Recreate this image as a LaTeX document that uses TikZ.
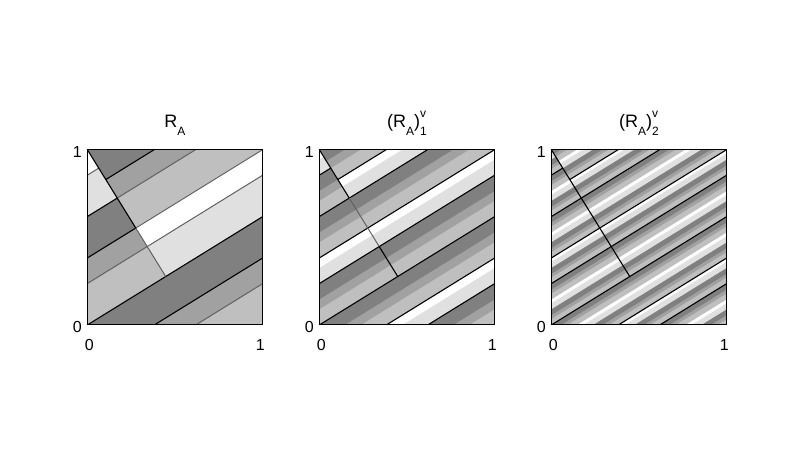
\documentclass[tikz,border=0pt]{standalone}
\usepackage{fontspec}
\setmainfont{Liberation Sans}
\definecolor{lev0}{gray}{0.5}
\definecolor{lev1}{gray}{0.63}
\definecolor{lev2}{gray}{0.75}
\definecolor{lev3}{gray}{0.88}
\definecolor{lev4}{gray}{1}
\definecolor{lngray}{gray}{0.38}
\def\Ss{0.618034}
\def\Ph{1.618034}
% one step of the inverse map on the left-edge coordinate
\newcommand\RAstep{%
  \pgfmathsetmacro\RAX{1-\RAu}%
  \pgfmathsetmacro\RAY{2*\RAu-floor(2*\RAu)}%
  \pgfmathsetmacro\RAt{\RAY-\Ss*\RAX}%
  \pgfmathtruncatemacro\RAin{((\RAY>\Ss*\RAX)&&(\RAY<1-\Ph*\RAX))?1:0}%
  \ifnum\RAin=1
    \pgfmathsetmacro\RAu{\RAt-floor(\RAt)}%
  \else
    \pgfmathsetmacro\RAu{\RAt+\Ss-floor(\RAt+\Ss)}%
  \fi}
\newcommand\RAruns[1]{%
  \gdef\RAlist{}\gdef\RAprev{-1}\gdef\RAstart{0}%
  \foreach \i in {0,...,999}{%
    \pgfmathsetmacro\RAu{(\i+0.5)/1000}%
    \ifnum#1>1 \RAstep\fi
    \ifnum#1>2 \RAstep\fi
    \pgfmathtruncatemacro\RAc{\RAu<0.236068?2:(\RAu<0.381966?1:(\RAu<0.618034?0:(\RAu<0.854102?3:4)))}%
    \ifnum\RAc=\RAprev\relax\else
      \ifnum\RAprev>-1
        \xdef\RAlist{\unexpanded\expandafter{\RAlist}\noexpand\RAfill{\RAprev}{\RAstart}{\i/1000}}%
      \fi
      \xdef\RAprev{\RAc}\xdef\RAstart{\i/1000}%
    \fi}%
  \xdef\RAlist{\unexpanded\expandafter{\RAlist}\noexpand\RAfill{\RAprev}{\RAstart}{1}}}
\newcommand\RAfillL[3]{\fill[lev#1] (-0.05,{#2-0.05*\Ss}) -- (1.05,{#2+1.05*\Ss}) -- (1.05,{#3+0.002+1.05*\Ss}) -- (-0.05,{#3+0.002-0.05*\Ss}) -- cycle;}
\newcommand\RAfillR[3]{\foreach \k in {0,1}{\fill[lev#1] (-0.05,{#2+\k-1.05*\Ss}) -- (1.05,{#2+\k+0.05*\Ss}) -- (1.05,{#3+\k+0.002+0.05*\Ss}) -- (-0.05,{#3+\k+0.002-1.05*\Ss}) -- cycle;}}
% unstable segment from parameter a0 to a1
\newcommand\RAseg[3]{%
  \pgfmathtruncatemacro\RAna{floor(#1)}%
  \pgfmathtruncatemacro\RAnb{floor(#2-0.00001)}%
  \foreach \n in {\RAna,...,\RAnb}{%
    \pgfmathsetmacro\RAxa{max(0,#1-\n)}%
    \pgfmathsetmacro\RAxb{min(1,#2-\n)}%
    \pgfmathsetmacro\RAcc{\n*\Ss-floor(\n*\Ss)}%
    \draw[#3] (\RAxa,{\RAcc+\Ss*\RAxa}) -- (\RAxb,{\RAcc+\Ss*\RAxb});
    \draw[#3] (\RAxa,{\RAcc+\Ss*\RAxa-1}) -- (\RAxb,{\RAcc+\Ss*\RAxb-1});}}
% stable segment (the diagonal) from x0 to x1
\newcommand\RAdiag[3]{\draw[#3] (#1,{1-\Ph*#1}) -- (#2,{1-\Ph*#2});}
\newcommand\RAsub[1]{\raisebox{-0.45em}{\fontsize{12}{12}\selectfont #1}}
\newcommand\RAsupsub[2]{\makebox[0pt][l]{\raisebox{0.55em}{\fontsize{12}{12}\selectfont #1}}\raisebox{-0.45em}{\fontsize{12}{12}\selectfont #2}}
\tikzset{
  blk/.style={black,line width=1.1pt},
  gry/.style={lngray,line width=1pt},
  frame/.style={black,line width=1pt},
  lbl/.style={font=\fontsize{16}{16}\selectfont,inner sep=0pt},
  ttl/.style={font=\fontsize{18}{18}\selectfont,inner sep=0pt,anchor=base}}
\newcommand\RApanel[6]{%
  \begin{scope}[shift={(#2,151)},x=175.4pt,y=175.4pt]
    \RAruns{#3}%
    \begin{scope}\clip (0,0) rectangle (1,1); \let\RAfill\RAfillR \RAlist\end{scope}
    \begin{scope}\clip (0,0) -- (0,1) -- (0.447214,0.276393) -- cycle; \let\RAfill\RAfillL \RAlist\end{scope}
    \begin{scope}\clip (0,0) rectangle (1,1); #4\end{scope}
    #5
    \draw[frame] (0,0) rectangle (1,1);
    \node[lbl] (#1y1) at ([xshift=-10pt,yshift=-2pt]0,1) {1};
    \node[lbl] (#1y0) at ([xshift=-10pt,yshift=-1.5pt]0,0) {0};
    \node[lbl] (#1x0) at ([xshift=2pt,yshift=-19.5pt]0,0) {0};
    \node[lbl] (#1x1) at ([xshift=-2.5pt,yshift=-20pt]1,0) {1};
    \node[ttl] (#1t) at ([yshift=22pt]0.5,1) {#6};
  \end{scope}}
\begin{document}
\begin{tikzpicture}[x=1pt,y=1pt]
\useasboundingbox[fill=white] (0,0) rectangle (785,476);
\RApanel{pa}{87.3}{1}{%
  \RAseg{-0.72361}{0}{gry}\RAseg{1.17082}{3.06525}{gry}%
  \RAseg{-1.89443}{-0.72361}{blk}\RAseg{0}{1.17082}{blk}}%
  {\RAdiag{0.276393}{0.447214}{gry}\RAdiag{0}{0.276393}{blk}}%
  {R\RAsub{A}}
\RApanel{pb}{319.3}{2}{%
  \RAseg{-1.89443}{3.06525}{blk}}%
  {\RAdiag{0.170820}{0.341641}{gry}\RAdiag{0}{0.170820}{blk}\RAdiag{0.341641}{0.447214}{blk}}%
  {(R\RAsub{A})\RAsupsub{v}{1}}
\RApanel{pc}{551.3}{3}{%
  \RAseg{-1.89443}{3.06525}{blk}}%
  {\RAdiag{0}{0.447214}{blk}}%
  {(R\RAsub{A})\RAsupsub{v}{2}}
\end{tikzpicture}
\end{document}
